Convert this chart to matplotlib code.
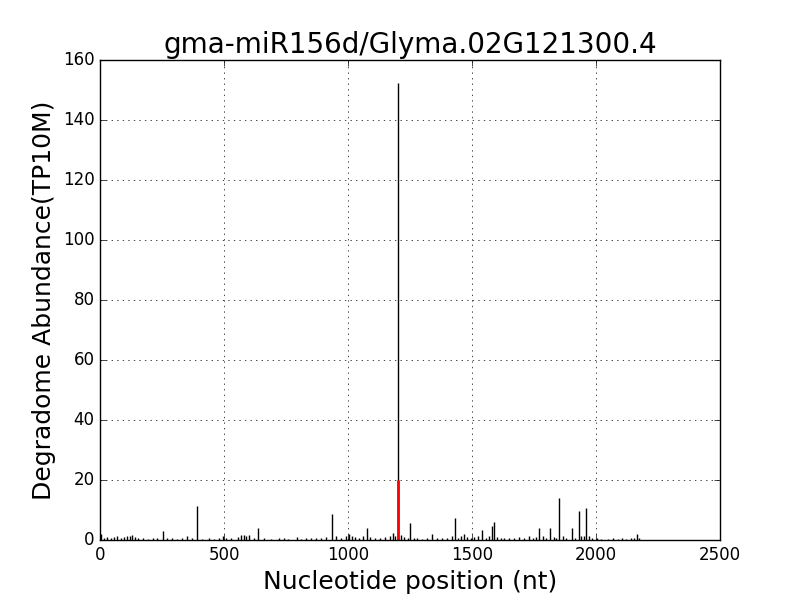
import matplotlib
matplotlib.use("Agg")
import matplotlib.pyplot as plt

plt.style.use('classic')

positions = [5, 15, 30, 45, 55, 70, 85, 95, 110, 120, 130, 140, 155, 175, 195, 215, 230, 255,
             270, 290, 310, 330, 350, 370, 390, 410, 440, 460, 480, 497, 510, 530, 555, 570,
             580, 590, 600, 620, 638, 660, 690, 720, 740, 760, 793, 810, 830, 850, 870, 890,
             910, 935, 952, 970, 990, 1004, 1015, 1030, 1045, 1060, 1075, 1090, 1110, 1130,
             1150, 1170, 1182, 1190, 1201, 1212, 1225, 1240, 1250, 1265, 1280, 1300, 1320,
             1339, 1360, 1380, 1400, 1420, 1431, 1445, 1455, 1468, 1480, 1495, 1510, 1525,
             1540, 1555, 1570, 1580, 1588, 1600, 1615, 1630, 1650, 1670, 1690, 1710, 1730,
             1745, 1760, 1770, 1785, 1800, 1814, 1830, 1840, 1851, 1865, 1880, 1903, 1915,
             1931, 1940, 1950, 1960, 1970, 1985, 2005, 2020, 2050, 2070, 2090, 2105, 2120,
             2140, 2155, 2165, 2175]
abundance = [2, 0.7, 1, 0.8, 1, 1.2, 0.8, 1, 1.5, 1.2, 1.8, 1, 0.8, 0.6, 0.5, 0.6, 0.8, 3.1,
             0.6, 0.7, 0.5, 0.8, 1.2, 0.6, 11.3, 0.5, 0.6, 0.5, 0.8, 1.5, 0.8, 0.6, 1, 1.8,
             1.8, 1.5, 1.8, 0.8, 4, 0.6, 0.5, 0.6, 0.8, 0.5, 1, 0.5, 0.7, 0.6, 0.8, 0.6,
             0.9, 8.7, 1.5, 0.8, 1.2, 2, 1.5, 1, 0.8, 1.2, 4, 1, 0.7, 0.8,
             1, 1.2, 2.5, 1.5, 152.5, 1.8, 1, 0.8, 5.7, 0.6, 0.7, 0.5, 0.6,
             2, 0.6, 0.8, 0.6, 1.2, 7.3, 0.8, 1.5, 2, 1, 0.6, 1, 1.2,
             3.3, 0.8, 1.5, 4.7, 5.9, 1, 0.8, 0.6, 0.7, 0.6, 1, 0.8, 1.5,
             0.8, 1, 4, 1.2, 0.8, 4, 1, 0.8, 14, 1.5, 0.6, 4, 0.8,
             9.8, 1.5, 1.2, 10.6, 1.2, 0.8, 0.6, 0.5, 0.5, 0.6, 0.5, 0.6, 0.5,
             0.6, 0.8, 2, 0.6]

target_position = [1203]
target_abundance = [20]

fig, ax = plt.subplots(figsize=(8, 6), dpi=100)
fig.subplots_adjust(left=0.125, right=0.9, bottom=0.1, top=0.9)
ax.vlines(positions, 0, abundance, colors='k', linewidth=1)
ax.vlines(target_position, 0, target_abundance, colors='red', linewidth=2)
ax.set_xlim(0, 2500)
ax.set_ylim(0, 160)
ax.grid(True, linestyle=':', color='k')
ax.set_title('gma-miR156d/Glyma.02G121300.4', fontsize=20)
ax.set_xlabel('Nucleotide position (nt)', fontsize=18)
ax.set_ylabel('Degradome Abundance(TP10M)', fontsize=18)
ax.tick_params(labelsize=12)
fig.savefig('out.png', dpi=100)
